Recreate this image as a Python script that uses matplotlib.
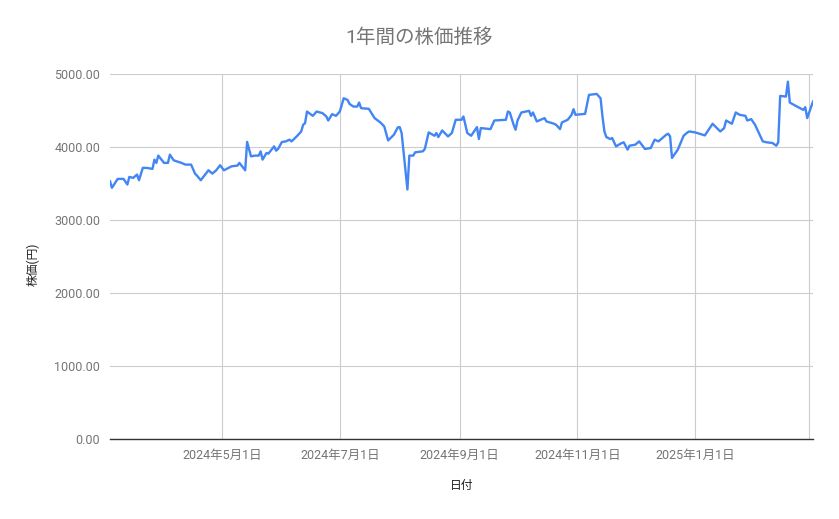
import pandas as pd
import matplotlib.pyplot as plt

plt.rcParams['font.family'] = ['Roboto', 'Noto Sans CJK JP', 'DejaVu Sans']

# Daily price readings (date, yen)
dates = [
    '2024-03-04', '2024-03-05', '2024-03-08', '2024-03-11', '2024-03-13', '2024-03-14',
    '2024-03-16', '2024-03-18', '2024-03-19', '2024-03-21', '2024-03-23', '2024-03-26',
    '2024-03-27', '2024-03-28', '2024-03-29', '2024-04-01', '2024-04-03', '2024-04-04',
    '2024-04-06', '2024-04-10', '2024-04-12', '2024-04-15', '2024-04-17', '2024-04-18',
    '2024-04-20', '2024-04-24', '2024-04-26', '2024-04-28', '2024-04-30', '2024-05-02',
    '2024-05-06', '2024-05-09', '2024-05-10', '2024-05-13', '2024-05-14', '2024-05-16',
    '2024-05-18', '2024-05-20', '2024-05-21', '2024-05-22', '2024-05-24', '2024-05-25',
    '2024-05-28', '2024-05-29', '2024-05-30', '2024-06-01', '2024-06-03', '2024-06-05',
    '2024-06-06', '2024-06-09', '2024-06-11', '2024-06-12', '2024-06-13', '2024-06-14',
    '2024-06-17', '2024-06-19', '2024-06-22', '2024-06-24', '2024-06-25', '2024-06-27',
    '2024-06-29', '2024-07-01', '2024-07-03', '2024-07-05', '2024-07-06', '2024-07-08',
    '2024-07-10', '2024-07-11', '2024-07-12', '2024-07-16', '2024-07-19', '2024-07-22',
    '2024-07-24', '2024-07-26', '2024-07-29', '2024-07-31', '2024-08-01', '2024-08-02',
    '2024-08-05', '2024-08-06', '2024-08-08', '2024-08-09', '2024-08-13', '2024-08-14',
    '2024-08-16', '2024-08-19', '2024-08-20', '2024-08-21', '2024-08-23', '2024-08-26',
    '2024-08-28', '2024-08-30', '2024-09-02', '2024-09-03', '2024-09-05', '2024-09-07',
    '2024-09-10', '2024-09-11', '2024-09-12', '2024-09-17', '2024-09-19', '2024-09-25',
    '2024-09-26', '2024-09-27', '2024-09-29', '2024-09-30', '2024-10-01', '2024-10-03',
    '2024-10-07', '2024-10-08', '2024-10-09', '2024-10-11', '2024-10-13', '2024-10-15',
    '2024-10-16', '2024-10-20', '2024-10-21', '2024-10-23', '2024-10-24', '2024-10-27',
    '2024-10-29', '2024-10-30', '2024-10-31', '2024-11-05', '2024-11-07', '2024-11-11',
    '2024-11-13', '2024-11-14', '2024-11-15', '2024-11-16', '2024-11-18', '2024-11-19',
    '2024-11-21', '2024-11-24', '2024-11-25', '2024-11-27', '2024-11-28', '2024-12-01',
    '2024-12-03', '2024-12-06', '2024-12-09', '2024-12-11', '2024-12-13', '2024-12-17',
    '2024-12-18', '2024-12-19', '2024-12-20', '2024-12-23', '2024-12-26', '2024-12-28',
    '2024-12-29', '2025-01-01', '2025-01-06', '2025-01-10', '2025-01-14', '2025-01-16',
    '2025-01-17', '2025-01-20', '2025-01-22', '2025-01-24', '2025-01-27', '2025-01-28',
    '2025-01-30', '2025-02-01', '2025-02-05', '2025-02-07', '2025-02-10', '2025-02-12',
    '2025-02-13', '2025-02-14', '2025-02-17', '2025-02-18', '2025-02-19', '2025-02-22',
    '2025-02-26', '2025-02-27', '2025-02-28', '2025-03-03',
]
prices = [
    3531, 3441, 3563, 3563, 3486, 3590,
    3577, 3622, 3545, 3714, 3714, 3700,
    3827, 3782, 3882, 3782, 3782, 3895,
    3817, 3782, 3759, 3759, 3636, 3609,
    3545, 3681, 3636, 3681, 3750, 3681,
    3736, 3745, 3782, 3681, 4070, 3872,
    3882, 3882, 3940, 3827, 3918, 3909,
    4009, 3950, 3973, 4068, 4077, 4100,
    4077, 4154, 4213, 4304, 4327, 4486,
    4427, 4486, 4464, 4418, 4363, 4450,
    4427, 4486, 4668, 4645, 4591, 4554,
    4554, 4609, 4532, 4523, 4396, 4336,
    4282, 4090, 4168, 4268, 4273, 4191,
    3418, 3882, 3882, 3927, 3941, 3973,
    4200, 4154, 4191, 4136, 4227, 4145,
    4191, 4373, 4373, 4418, 4191, 4154,
    4273, 4109, 4259, 4245, 4363, 4373,
    4486, 4473, 4304, 4236, 4363, 4473,
    4495, 4427, 4473, 4350, 4373, 4396,
    4350, 4318, 4304, 4245, 4336, 4373,
    4441, 4518, 4441, 4454, 4714, 4727,
    4668, 4418, 4213, 4136, 4109, 4123,
    4009, 4055, 4064, 3964, 4018, 4032,
    4077, 3973, 3986, 4100, 4077, 4168,
    4182, 4145, 3850, 3964, 4154, 4200,
    4213, 4200, 4159, 4318, 4213, 4259,
    4363, 4318, 4473, 4441, 4427, 4363,
    4382, 4304, 4077, 4064, 4055, 4018,
    4064, 4700, 4691, 4895, 4609, 4564,
    4509, 4545, 4396, 4623,
]

tick_dates = ['2024-05-01', '2024-07-01', '2024-09-01', '2024-11-01', '2025-01-01', '2025-03-01']
tick_labels = ['2024年5月1日', '2024年7月1日', '2024年9月1日', '2024年11月1日', '2025年1月1日', '']
y_ticks = [0, 1000, 2000, 3000, 4000, 5000]

x = pd.to_datetime(dates)

fig = plt.figure(figsize=(8.39, 5.19), dpi=100)
ax = fig.add_axes([110 / 839, 1 - 439 / 519, 703 / 839, 365 / 519])

ax.plot(x, prices, color='#4285F4', linewidth=1.7, solid_joinstyle='round', zorder=3)

ax.set_xlim(x[0], x[-1])
ax.set_ylim(0, 5000)
ax.set_yticks(y_ticks)
ax.set_yticklabels([f'{v:.2f}' for v in y_ticks])
ax.set_xticks(pd.to_datetime(tick_dates))
ax.set_xticklabels(tick_labels)

ax.grid(True, color='#cccccc', linewidth=0.8)
ax.set_axisbelow(True)
for side in ['top', 'right', 'left']:
    ax.spines[side].set_visible(False)
ax.spines['bottom'].set_color('#333333')
ax.spines['bottom'].set_linewidth(1.0)
ax.spines['bottom'].set_zorder(4)
ax.tick_params(axis='both', length=0, labelsize=9, labelcolor='#757575')
ax.tick_params(axis='y', pad=7)
ax.tick_params(axis='x', pad=7)

fig.text(0.5, 1 - 38 / 519, '1年間の株価推移', ha='center', va='center',
         fontsize=14, color='#757575')
fig.text(462 / 839, 1 - 486 / 519, '日付', ha='center', va='center',
         fontsize=8.5, color='#222222')
fig.text(33 / 839, 1 - 264 / 519, '株価(円)', ha='center', va='center',
         rotation=90, fontsize=8.5, color='#222222')

fig.savefig('out.png', dpi=100)
